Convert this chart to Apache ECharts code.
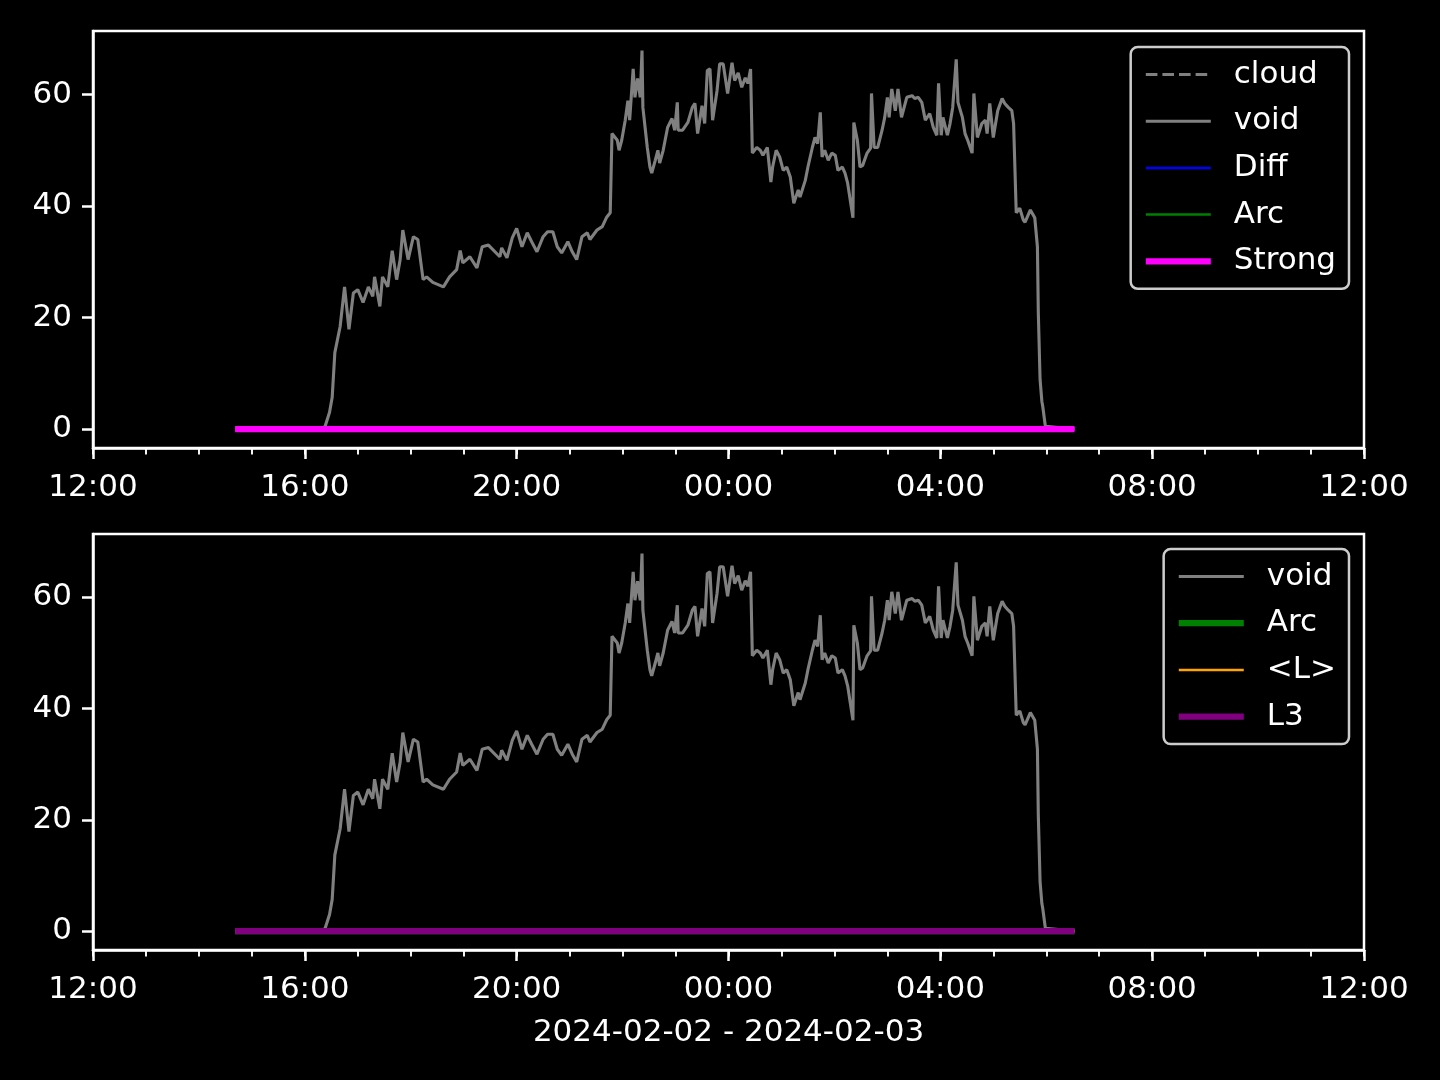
<!DOCTYPE html>
<html><head><meta charset="utf-8">
<script src="https://cdn.jsdelivr.net/npm/echarts@6/dist/echarts.min.js"></script>
<style>html,body{margin:0;padding:0;background:#000;} #c{width:1440px;height:1080px;}</style>
</head><body><div id="c"></div>
<script>
const voidTimes = ['14:41','16:19','16:23','16:28','16:31','16:34','16:40','16:45','16:50','16:55',
'17:00','17:06','17:12','17:17','17:19','17:25','17:28','17:34','17:39','17:44','17:48','17:51','17:57',
'18:03','18:08','18:14','18:18','18:25','18:37','18:44','18:52','18:56','18:59',
'19:07','19:15','19:21','19:28','19:41','19:43','19:49','19:55',
'20:00','20:06','20:12','20:17','20:23','20:30','20:35','20:41','20:46','20:51','20:58',
'21:03','21:08','21:14','21:20','21:23','21:31','21:37','21:42','21:46','21:48','21:54','21:56','21:59',
'22:03','22:06','22:08','22:12','22:14','22:17','22:20','22:22','22:23','22:28','22:31','22:33','22:37','22:40','22:42','22:46','22:51','22:56','22:59',
'23:02','23:03','23:08','23:14','23:19','23:22','23:25','23:30','23:33','23:36','23:39','23:42','23:47','23:50','23:54','23:59',
'00:04','00:07','00:11','00:15','00:19','00:22','00:25','00:27','00:32','00:36','00:39','00:44','00:48','00:50','00:54','00:58',
'01:02','01:06','01:10','01:14','01:19','01:21','01:27','01:30','01:35','01:38','01:41','01:44','01:46','01:49','01:53','01:57',
'02:01','02:04','02:09','02:12','02:15','02:21','02:22','02:26','02:29','02:32','02:37','02:41','02:42','02:45','02:49','02:54','02:57',
'03:00','03:02','03:05','03:09','03:12','03:16','03:22','03:28','03:31','03:35','03:39','03:43','03:48','03:52','03:56','03:58',
'04:01','04:03','04:08','04:11','04:14','04:18','04:20','04:25','04:28','04:31','04:36','04:38','04:42','04:47','04:51','04:53','04:56',
'05:00','05:05','05:10','05:13','05:17','05:21','05:23','05:26','05:30','05:34','05:36','05:42','05:47','05:50','05:51','05:53','05:55','05:56','05:59','06:32'];
const voidValues = [0,0,0.5,3,5.7,13.7,18.4,25.5,17.9,24.4,
25,22.7,25.5,23.8,27.3,22,27.3,25.5,32,26.8,30.4,35.7,30.4,
34.5,34,26.8,27.3,26.3,25.5,27.3,28.6,32,29.8,
30.9,28.9,32.7,33,30.9,32.5,30.7,34.3,
36,32.7,35.2,33.6,31.8,34.5,35.4,35.4,32.7,31.6,33.6,
31.8,30.4,34.5,35.2,34,35.7,36.3,38,38.8,53,51.8,50,51.8,
55.4,58.9,55.4,64.6,59.5,62.9,59.5,67.9,57.7,50.5,47,45.9,48.2,50,47.7,50,54.1,55.7,53.6,
58.6,53.6,53.6,55,57.7,58.4,53,58,54.8,64.3,64.6,55.4,60.7,65.5,65.5,60.2,
65.7,62.5,63.9,61.3,63,62,64.6,49.5,50.5,50,49.1,50.5,44.3,47,50,48.8,
46.4,47,45.2,40.5,42.9,41.6,44.6,47,50.5,52.3,51.2,56.8,48.8,50,48.2,49.5,
49.1,46.4,47,45.9,44.1,37.9,55,51.8,47,47.3,49.5,50.4,60.2,50.5,50.5,53.6,55.9,
59.5,55.9,61,57.1,61,55.9,59.5,59.8,59.3,59.5,58.6,55.4,56.6,54.1,52.7,62,
52.7,55.9,52.7,54.8,57.7,66.3,58.6,55.9,53,51.8,49.5,60.2,52.3,54.8,55.4,53,58.4,
52.3,57.1,59.3,58.4,57.7,57.1,54.8,38.8,39.6,37.5,37.1,39.3,37.9,32.7,20.9,8.9,5,4.1,0.5,0];

const flatTimes = ['14:41','06:32'];
const cloudValues = [0,0];
const diffValues = [0,0];
const arcValues = [0,0];
const strongValues = [0,0];
const lValues = [0,0];
const l3Values = [0,0];

const yTicks = [0,20,40,60];
const xTickLabels = ['12:00','16:00','20:00','00:00','04:00','08:00','12:00'];
const xAxisTitle = '2024-02-02 - 2024-02-03';
const topLegend = ['cloud','void','Diff','Arc','Strong'];
const bottomLegend = ['void','Arc','<L>','L3'];

const H = 3600000;
const t0 = new Date(2024,1,2,12,0).getTime();
const t1 = t0 + 24*H;
function ts(hm){ const p = hm.split(':').map(Number); const day = p[0] >= 12 ? 2 : 3; return new Date(2024,1,day,p[0],p[1]).getTime(); }
function pairs(times, vals){ return times.map((t,i)=>[ts(t), vals[i]]); }
const majorTicks = xTickLabels.map((_,i)=>t0 + i*4*H);
const minorTicks = []; for (let i=0;i<=24;i++) minorTicks.push(t0 + i*H);

const FONT = 'DejaVu Sans';
const W = '#ffffff';

function xMajor(gi, withName){
  const a = {type:'value', gridIndex:gi, min:t0, max:t1, position:'bottom', scale:true,
    axisLine:{show:true, onZero:false, lineStyle:{color:W, width:2.5}},
    axisTick:{show:true, customValues:majorTicks, length:11, lineStyle:{color:W, width:2.5}},
    axisLabel:{show:true, customValues:majorTicks, color:W, fontSize:31, fontFamily:FONT, margin:24,
      formatter:(v)=>xTickLabels[Math.round((v-t0)/(4*H))]},
    splitLine:{show:false}};
  if (withName){ a.name = xAxisTitle; a.nameLocation='middle'; a.nameGap=67;
    a.nameTextStyle={color:W, fontSize:31, fontFamily:FONT}; }
  return a;
}
function xMinor(gi){
  return {type:'value', gridIndex:gi, min:t0, max:t1, position:'bottom', scale:true,
    axisLine:{show:false, onZero:false},
    axisTick:{show:true, customValues:minorTicks, length:6.5, lineStyle:{color:W, width:1.9}},
    axisLabel:{show:false}, splitLine:{show:false}};
}
function yAx(gi){
  return {type:'value', gridIndex:gi, min:-3.4, max:71.4,
    axisLine:{show:true, onZero:false, lineStyle:{color:W, width:2.5}},
    axisTick:{show:true, customValues:yTicks, length:11, lineStyle:{color:W, width:2.5}},
    axisLabel:{show:true, customValues:yTicks, color:W, fontSize:31, fontFamily:FONT, margin:21},
    splitLine:{show:false}};
}
function ln(name, xi, yi, data, color, width, dash){
  return {name, type:'line', xAxisIndex:xi, yAxisIndex:yi, data, showSymbol:false, symbol:'none',
    lineStyle:{color, width, type: dash || 'solid'}, itemStyle:{color}, silent:true, animation:false};
}
function legend(data, top, right){
  return {data, orient:'vertical', top, right, itemWidth:65, itemHeight:14, itemGap:15.7,
    padding:[12,13,12,12], backgroundColor:'#000', borderColor:'#cccccc', borderWidth:2.5, borderRadius:7,
    itemStyle:{opacity:0, borderWidth:0},
    lineStyle:{width:'inherit', type:'inherit', color:'inherit'},
    formatter:(n)=>n.replace('#2',''),
    textStyle:{color:W, fontSize:31, fontFamily:FONT, lineHeight:31, padding:[0,0,0,18]}};
}

const chart = echarts.init(document.getElementById('c'), null, {renderer:'canvas'});
chart.setOption({
  backgroundColor:'#000', animation:false,
  grid:[
    {left:93, top:31, width:1271, height:417, show:true, borderColor:W, borderWidth:2.5, backgroundColor:'#000'},
    {left:93, top:534, width:1271, height:416, show:true, borderColor:W, borderWidth:2.5, backgroundColor:'#000'}
  ],
  xAxis:[xMajor(0,false), xMinor(0), xMajor(1,true), xMinor(1)],
  yAxis:[yAx(0), yAx(1)],
  legend:[legend(topLegend, 47, 91), legend(bottomLegend.map(n=> (n==='void'||n==='Arc') ? n+'#2' : n), 549, 91)],
  series:[
    ln('cloud',0,0,pairs(flatTimes,cloudValues),'#808080',3.1,[11.6,5]),
    ln('void',0,0,pairs(voidTimes,voidValues),'#808080',3.1),
    ln('Diff',0,0,pairs(flatTimes,diffValues),'#0000ff',2.5),
    ln('Arc',0,0,pairs(flatTimes,arcValues),'#008000',2.5),
    ln('Strong',0,0,pairs(flatTimes,strongValues),'#ff00ff',6.25),
    ln('void#2',2,1,pairs(voidTimes,voidValues),'#808080',3.1),
    ln('Arc#2',2,1,pairs(flatTimes,arcValues),'#008000',6.25),
    ln('<L>',2,1,pairs(flatTimes,lValues),'#ffa500',2.5),
    ln('L3',2,1,pairs(flatTimes,l3Values),'#800080',6.25)
  ]
});
</script></body></html>
